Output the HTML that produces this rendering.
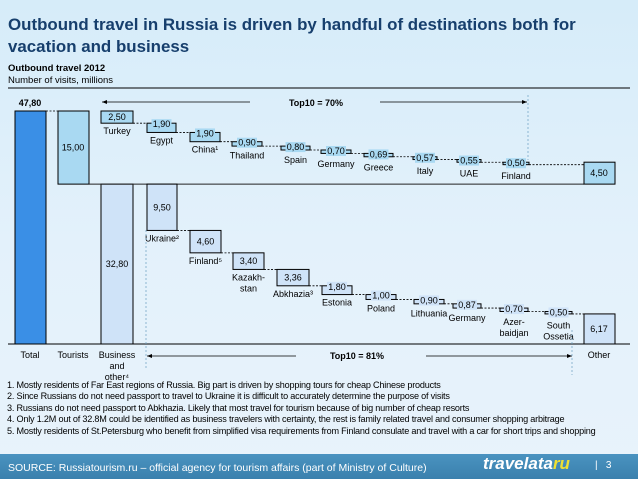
<!DOCTYPE html>
<html><head><meta charset="utf-8">
<style>
html,body{margin:0;padding:0;width:638px;height:479px;overflow:hidden;font-family:"Liberation Sans",Arial,sans-serif;}
#bg{position:absolute;left:0;top:0;width:638px;height:479px;background:linear-gradient(180deg,#d6ecf9 0%,#e3f1fb 50%,#e8f3fb 100%);}
.t{position:absolute;}
</style></head>
<body>
<div id="bg"></div>
<div class="t" style="left:8px;top:14px;font-size:16.9px;font-weight:bold;color:#173f6d;line-height:22px;width:630px;">Outbound travel in Russia is driven by handful of destinations both for<br>vacation and business</div>
<div class="t" style="left:8px;top:63px;font-size:9.5px;color:#000;line-height:12px;"><b>Outbound travel 2012</b><br>Number of visits, millions</div>
<svg class="t" style="left:0;top:0" width="638" height="479" id="chart" font-family="Liberation Sans, Arial, sans-serif">
<line x1="8" y1="88" x2="630" y2="88" stroke="#000" stroke-width="1"/>
</svg>
<div class="t" style="left:7px;top:380px;font-size:9.1px;line-height:11.4px;color:#000;white-space:nowrap;letter-spacing:-0.2px">
1. Mostly residents of Far East regions of Russia. Big part is driven by shopping tours for cheap Chinese products<br>
2. Since Russians do not need passport to travel to Ukraine it is difficult to accurately determine the purpose of visits<br>
3. Russians do not need passport to Abkhazia. Likely that most travel for tourism because of big number of cheap resorts<br>
4. Only 1.2M out of 32.8M could be identified as business travelers with certainty, the rest is family related travel and consumer shopping arbitrage<br>
5. Mostly residents of St.Petersburg who benefit from simplified visa requirements from Finland consulate and travel with a car for short trips and shopping</div>
<div class="t" style="left:0;top:454px;width:638px;height:25px;background:linear-gradient(180deg,#4a93c0,#3a80ad);"></div>
<div class="t" style="left:8px;top:462px;font-size:10.5px;color:#fff;">SOURCE: Russiatourism.ru – official agency for tourism affairs (part of Ministry of Culture)</div>
<div class="t" style="left:483px;top:454px;font-size:17px;font-style:italic;font-weight:bold;color:#fff;">travelata<span style="color:#f0e030">ru</span></div>
<div class="t" style="left:595px;top:460px;font-size:10px;color:#fff;">|&nbsp;&nbsp;&nbsp;3</div>
<script>
const tourNames=["Turkey","Egypt","China¹","Thailand","Spain","Germany","Greece","Italy","UAE","Finland"];
const tourVals=[2.50,1.90,1.90,0.90,0.80,0.70,0.69,0.57,0.55,0.50];
const bizNames=["Ukraine²","Finland⁵","Kazakh-|stan","Abkhazia³","Estonia","Poland","Lithuania","Germany","Azer-|baidjan","South|Ossetia"];
const bizVals=[9.50,4.60,3.40,3.36,1.80,1.00,0.90,0.87,0.70,0.50];
const totalVal=47.80, touristVal=15.00, businessVal=32.80, tourOther=4.50, bizOther=6.17;
const top10Labels=["Top10 = 70%","Top10 = 81%"];

const NS="http://www.w3.org/2000/svg";
const svg=document.getElementById('chart');
const base=344, scale=233/47.8;
function y(v){return base-v*scale;}
function fmt(v){return v.toFixed(2).replace('.',',');}
function el(tag,attrs,parent){const e=document.createElementNS(NS,tag);for(const k in attrs)e.setAttribute(k,attrs[k]);(parent||svg).appendChild(e);return e;}
function txt(x,yy,s,opt){const e=el('text',Object.assign({x:x,y:yy,'font-size':9,'text-anchor':'middle',fill:'#000'},opt||{}));e.textContent=s;return e;}
function rect(x,y1,y2,w,fill){return el('rect',{x:x,y:Math.min(y1,y2),width:w,height:Math.max(Math.abs(y2-y1),0.8),fill:fill,stroke:'#000','stroke-width':1});}
function dash(x1,yy,x2){return el('line',{x1:x1,y1:yy,x2:x2,y2:yy,stroke:'#000','stroke-width':0.8,'stroke-dasharray':'2,1.5'});}

let r=rect(15,y(totalVal),base,31,'#3a8fe6');
let t=txt(30,y(totalVal)-5,fmt(totalVal),{'font-weight':'bold'});
dash(46,y(totalVal),58);
r=rect(58,y(totalVal),y(totalVal-touristVal),31,'#a9d9f2');
t=txt(73,(y(totalVal)+y(totalVal-touristVal))/2+3,fmt(touristVal));
r=rect(101,y(businessVal),base,32,'#cfe3f8');
t=txt(117,(y(businessVal)+base)/2+3,fmt(businessVal));
let l=el('line',{x1:8,y1:base,x2:630,y2:base,stroke:'#000','stroke-width':1});
l=el('line',{x1:89,y1:y(businessVal),x2:584,y2:y(businessVal),stroke:'#222','stroke-width':1});

const tourX=[101,147,190,232,281,321,364,413,457,503];
const tourW=[32,29,30,30,29,30,29,24,24,26];
let cum=totalVal;
tourVals.forEach((v,i)=>{
  const t1=y(cum), t2=y(cum-v);
  const big=v>=2;
  const b=rect(tourX[i],t1,t2,tourW[i],'#a9d9f2');
  
  
  const cx=tourX[i]+tourW[i]/2;
  const ly=big?(t1+t2)/2+3:t1+4;
  if(!big){const bg=el('rect',{x:cx-10,y:ly-8,width:20,height:10,fill:'#a9d9f2'});}
  const vt=txt(cx,ly,fmt(v));
  
  
  const nt=txt(cx,Math.max(t2,t1+6)+11,tourNames[i]);
  
  
  const nx=i<9?tourX[i+1]:584;
  dash(tourX[i]+tourW[i],t2,nx);
  cum-=v;
});
r=rect(584,y(businessVal+tourOther),y(businessVal),31,'#a9d9f2');
t=txt(599,(y(businessVal+tourOther)+y(businessVal))/2+3,fmt(tourOther));

const bizX=[147,190,233,277,322,366,414,453,500,545];
const bizW=[30,31,31,32,30,30,30,28,28,27];
cum=businessVal;
bizVals.forEach((v,i)=>{
  const t1=y(cum), t2=y(cum-v);
  const big=v>=3;
  const b=rect(bizX[i],t1,t2,bizW[i],'#cfe3f8');
  
  
  const cx=bizX[i]+bizW[i]/2;
  const ly=big?(t1+t2)/2+3:t1+4;
  if(!big){const bg=el('rect',{x:cx-10,y:ly-8,width:20,height:10,fill:'#cfe3f8'});}
  const vt=txt(cx,ly,fmt(v));
  
  
  const parts=bizNames[i].split('|');
  parts.forEach((p,j)=>{const nt=txt(cx,Math.max(t2,t1+6)+11+j*11,p);
    
    });
  const nx=i<9?bizX[i+1]:584;
  dash(bizX[i]+bizW[i],t2,nx);
  cum-=v;
});
r=rect(584,y(bizOther),base,31,'#cfe3f8');
t=txt(599,(y(bizOther)+base)/2+3,fmt(bizOther));

[["Total",30],["Tourists",73],["Business",117],["Other",599]].forEach(a=>{const c=txt(a[1],358,a[0]);
  
  });
t=txt(117,369,"and");
t=txt(117,380,"other⁴");

function arrow(x1,x2,yy,dir){el('line',{x1:x1,y1:yy,x2:x2,y2:yy,stroke:'#000','stroke-width':0.8});
  const tip=dir<0?x1:x2;el('polygon',{points:dir<0?`${tip},${yy} ${tip+5},${yy-2} ${tip+5},${yy+2}`:`${tip},${yy} ${tip-5},${yy-2} ${tip-5},${yy+2}`,fill:'#000'});}
arrow(102,250,102,-1);arrow(380,527,102,1);
t=txt(316,106,top10Labels[0],{'font-weight':'bold'});
arrow(147,296,356,-1);arrow(426,572,356,1);
t=txt(357,359,top10Labels[1],{'font-weight':'bold'});
el('line',{x1:528,y1:95,x2:528,y2:160,stroke:'#6a9ec0','stroke-width':0.7,'stroke-dasharray':'2,2'});
el('line',{x1:146,y1:230,x2:146,y2:370,stroke:'#6a9ec0','stroke-width':0.7,'stroke-dasharray':'2,2'});
el('line',{x1:572,y1:330,x2:572,y2:375,stroke:'#6a9ec0','stroke-width':0.7,'stroke-dasharray':'2,2'});
</script>
</body></html>
